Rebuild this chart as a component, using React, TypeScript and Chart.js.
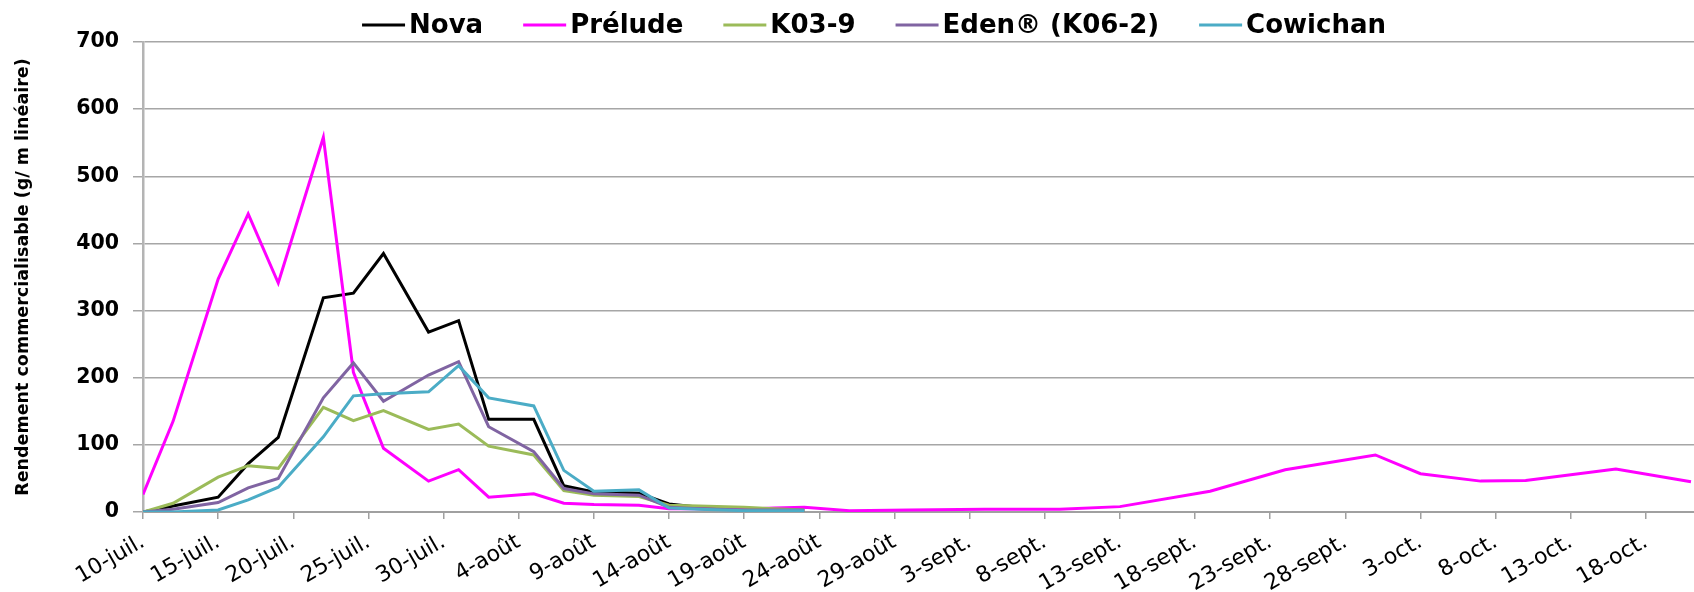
import React, { useEffect, useRef } from 'react';
import { Chart, registerables } from 'chart.js';

Chart.register(...registerables);

const YEAR = 2014;
const START = '07-10';
const MONTHS = ['janv.', 'févr.', 'mars', 'avr.', 'mai', 'juin', 'juil.', 'août', 'sept.', 'oct.', 'nov.', 'déc.'];

// harvest dates (MM-DD) shared by all cultivars
const harvestDates = [
  '07-10', '07-12', '07-15', '07-17', '07-19', '07-22', '07-24', '07-26', '07-29', '07-31',
  '08-02', '08-05', '08-07', '08-09', '08-12', '08-14', '08-16', '08-19', '08-21', '08-23',
];
// later harvests, Prélude only
const preludeLateDates = [
  '08-26', '08-30', '09-04', '09-09', '09-13', '09-19', '09-24', '09-30', '10-03', '10-07', '10-10', '10-16', '10-21',
];

const seriesNames = ['Nova', 'Prélude', 'K03-9', 'Eden® (K06-2)', 'Cowichan'];
const seriesColors = ['#000000', '#FF00FF', '#9BBB59', '#8064A2', '#4BACC6'];

const novaValues = [0, 9, 22, 72, 111, 319, 326, 385, 268, 285, 138, 138, 39, 30, 28, 12, 7, 4, 3, 3];
const preludeValues = [26, 135, 347, 444, 341, 558, 208, 95, 46, 63, 22, 27, 13, 11, 10, 5, 5, 4, 6, 7];
const preludeLateValues = [2, 3, 4, 4, 8, 31, 63, 85, 57, 46, 47, 64, 45];
const k039Values = [0, 13, 52, 69, 65, 156, 136, 151, 123, 131, 98, 85, 32, 25, 23, 10, 9, 7, 5, 3];
const edenValues = [0, 4, 14, 36, 50, 170, 222, 165, 204, 224, 127, 90, 35, 27, 25, 7, 5, 3, 3, 3];
const cowichanValues = [0, 0, 3, 18, 37, 112, 173, 176, 179, 218, 170, 158, 62, 31, 33, 6, 4, 2, 2, 2];

const yTicksMax = 700;
const yStep = 100;
const xStep = 5;
const xMaxDays = 103.2;

const FONT = '"DejaVu Sans", sans-serif';

function utc(md: string): number {
  const [m, d] = md.split('-').map(Number);
  return Date.UTC(YEAR, m - 1, d);
}
function dayOffset(md: string): number {
  return Math.round((utc(md) - utc(START)) / 86400000);
}
function dayLabel(v: number): string {
  const dt = new Date(utc(START) + v * 86400000);
  return `${dt.getUTCDate()}-${MONTHS[dt.getUTCMonth()]}`;
}
function toPoints(dates: string[], values: number[]) {
  return values.map((y, i) => ({ x: dayOffset(dates[i]), y }));
}

const legendPlugin = {
  id: 'topLegend',
  afterDraw(chart: any) {
    const ctx = chart.ctx as CanvasRenderingContext2D;
    ctx.save();
    ctx.font = `bold 26px ${FONT}`;
    ctx.textBaseline = 'middle';
    const lineLen = 43;
    const gapText = 4;
    const gapItem = 40;
    const items = chart.data.datasets.map((ds: any) => ({
      label: ds.label as string,
      color: ds.borderColor as string,
      w: ctx.measureText(ds.label).width,
    }));
    const total = items.reduce((s: number, it: any) => s + lineLen + gapText + it.w, 0) + gapItem * (items.length - 1);
    let x = 874 - total / 2;
    const y = 25;
    items.forEach((it: any) => {
      ctx.strokeStyle = it.color;
      ctx.lineWidth = 3;
      ctx.beginPath();
      ctx.moveTo(x, y);
      ctx.lineTo(x + lineLen, y);
      ctx.stroke();
      x += lineLen + gapText;
      ctx.fillStyle = '#000';
      ctx.fillText(it.label, x, y + 1);
      x += it.w + gapItem;
    });
    ctx.restore();
  },
};

export default function App() {
  const ref = useRef<HTMLCanvasElement | null>(null);

  useEffect(() => {
    document.body.style.margin = '0';
    if (!ref.current) return;
    const allSeries = [
      toPoints(harvestDates, novaValues),
      toPoints(harvestDates.concat(preludeLateDates), preludeValues.concat(preludeLateValues)),
      toPoints(harvestDates, k039Values),
      toPoints(harvestDates, edenValues),
      toPoints(harvestDates, cowichanValues),
    ];
    const chart = new Chart(ref.current, {
      type: 'line',
      data: {
        datasets: allSeries.map((pts, i) => ({
          label: seriesNames[i],
          data: pts,
          borderColor: seriesColors[i],
          backgroundColor: seriesColors[i],
          borderWidth: 3,
          pointRadius: 0,
          tension: 0,
          fill: false,
          order: seriesNames.length - i,
        })),
      },
      options: {
        animation: false,
        responsive: false,
        maintainAspectRatio: false,
        layout: { padding: { top: 42, left: 0, right: 0, bottom: 0 } },
        plugins: {
          legend: { display: false },
          tooltip: { enabled: false },
        },
        scales: {
          x: {
            type: 'linear',
            min: 0,
            max: xMaxDays,
            afterFit: (s: any) => { s.height = 80; },
            border: { display: true, color: '#a0a0a0', width: 2 },
            grid: {
              display: true,
              drawOnChartArea: false,
              drawTicks: true,
              tickLength: 7,
              color: '#a0a0a0',
              lineWidth: 1.5,
            },
            ticks: {
              stepSize: xStep,
              includeBounds: false,
              autoSkip: false,
              minRotation: 30,
              maxRotation: 30,
              padding: 10,
              color: '#000',
              font: { family: FONT, size: 22 },
              callback: (v: any) => dayLabel(Number(v)),
            },
          },
          y: {
            min: 0,
            max: yTicksMax,
            afterFit: (s: any) => { s.width = 143; },
            border: { display: true, color: '#b4b4b4', width: 2.5 },
            grid: { color: '#a6a6a6', lineWidth: 1.5, drawTicks: true, tickLength: 10 },
            ticks: {
              stepSize: yStep,
              padding: 14,
              color: '#000',
              font: { family: FONT, size: 20.5, weight: 'bold' },
            },
            title: {
              display: true,
              text: 'Rendement commercialisable (g/ m linéaire)',
              color: '#000',
              font: { family: FONT, size: 17.5, weight: 'bold' },
              padding: { top: 13, bottom: 0 },
            },
          },
        },
      },
      plugins: [legendPlugin],
    });
    return () => chart.destroy();
  }, []);

  return (
    <div style={{ width: 1694, height: 592, position: 'relative' }}>
      <canvas ref={ref} width={1694} height={592} style={{ display: 'block' }} />
    </div>
  );
}
